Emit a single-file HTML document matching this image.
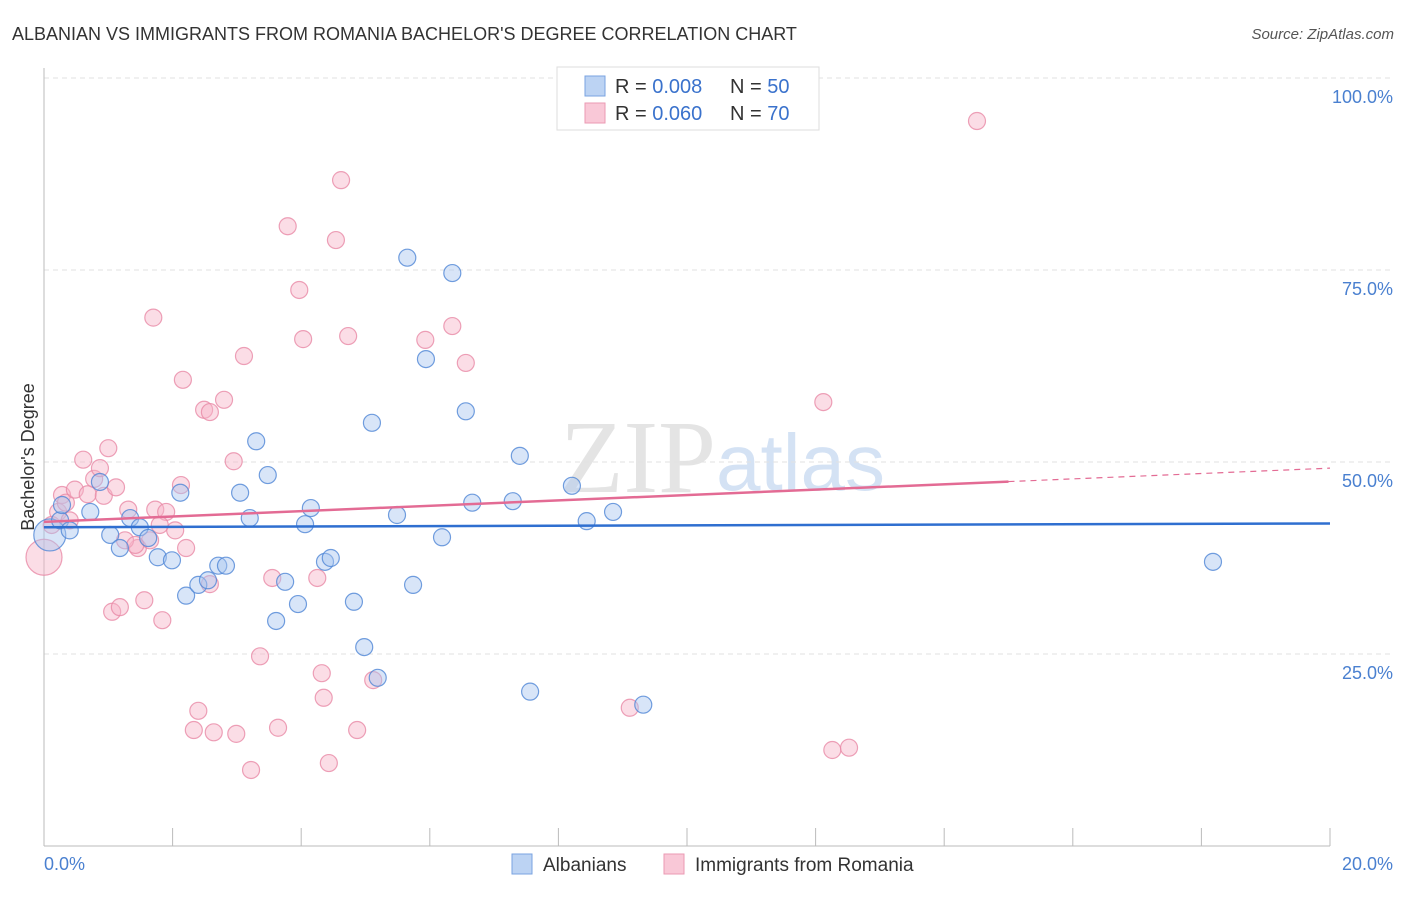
<!DOCTYPE html>
<html><head><meta charset="utf-8"><style>
body{margin:0;background:#fff;font-family:"Liberation Sans",sans-serif;}
svg text{font-family:"Liberation Sans",sans-serif;}
</style></head><body>
<svg id="chart" width="1406" height="892">
<text x="12" y="40" font-size="18" fill="#333">ALBANIAN VS IMMIGRANTS FROM ROMANIA BACHELOR'S DEGREE CORRELATION CHART</text>
<text x="1394" y="39" font-size="15" fill="#555" font-style="italic" text-anchor="end">Source: ZipAtlas.com</text>
<text x="716" y="492" font-size="104" fill="#e4e4e4" style="font-family:'Liberation Serif',serif" text-anchor="end">ZIP</text>
<text x="716" y="490" font-size="80" fill="#d4e2f4">atlas</text>
<g id="grid"></g><g id="axes"></g><g id="pts"></g><g id="trend"></g>
<text transform="translate(34,457) rotate(-90)" font-size="18" fill="#333" text-anchor="middle">Bachelor's Degree</text>
<text x="44" y="870" font-size="18" fill="#4a80d0">0.0%</text>
<text x="1393" y="870" font-size="18" fill="#4a80d0" text-anchor="end">20.0%</text>
<g>
<rect x="557" y="67" width="262" height="63" fill="#fff" stroke="#ddd"/>
<rect x="585" y="76" width="20" height="20" fill="#bcd3f3" stroke="#7aa3e0"/>
<rect x="585" y="103" width="20" height="20" fill="#f9c8d7" stroke="#eb9ab3"/>
<text x="615" y="93" font-size="20" fill="#333">R = <tspan fill="#3a72cc">0.008</tspan></text>
<text x="730" y="93" font-size="20" fill="#333">N = <tspan fill="#3a72cc">50</tspan></text>
<text x="615" y="120" font-size="20" fill="#333">R = <tspan fill="#3a72cc">0.060</tspan></text>
<text x="730" y="120" font-size="20" fill="#333">N = <tspan fill="#3a72cc">70</tspan></text>
</g>
<g>
<rect x="512" y="854" width="20" height="20" fill="#bcd3f3" stroke="#7aa3e0"/>
<text x="543" y="871" font-size="19" fill="#333">Albanians</text>
<rect x="664" y="854" width="20" height="20" fill="#f9c8d7" stroke="#eb9ab3"/>
<text x="695" y="871" font-size="19" fill="#333">Immigrants from Romania</text>
</g>
</svg>
<script>
const yTicks=[25,50,75,100];
const yTickLabels=["25.0%","50.0%","75.0%","100.0%"];
const blueX=[0.09,0.25,0.40,0.28,0.72,0.87,1.03,1.18,1.34,1.49,1.62,1.77,1.99,2.12,2.21,2.40,2.55,2.71,2.83,3.05,3.20,3.30,3.48,3.61,3.75,3.95,4.06,4.15,4.37,4.46,4.82,4.98,5.10,5.19,5.49,5.65,5.74,5.94,6.19,6.35,6.56,6.66,7.29,7.40,7.56,8.21,8.44,8.85,9.32,18.18];
const blueY=[40.5,42.4,41.1,44.4,43.5,47.4,40.5,38.8,42.7,41.5,40.1,37.6,37.2,46.0,32.6,34.0,34.6,36.5,36.5,46.0,42.7,52.7,48.3,29.3,34.4,31.5,41.9,44.0,37.0,37.5,31.8,25.9,55.1,21.9,43.1,76.6,34.0,63.4,40.2,74.6,56.6,44.7,44.9,50.8,20.1,46.9,42.3,43.5,18.4,37.0];
const pinkX=[0,0.12,0.22,0.28,0.34,0.48,0.61,0.68,0.78,0.87,0.93,1.00,1.06,1.12,1.18,1.31,1.46,1.56,1.65,1.70,1.73,1.84,1.90,2.04,2.13,2.16,2.21,2.33,2.40,2.49,2.58,2.64,2.80,2.95,2.99,3.11,3.22,3.36,3.55,3.64,3.79,3.97,4.03,4.25,4.32,4.35,4.54,4.62,4.73,4.87,4.43,5.12,5.93,6.35,6.56,9.11,12.12,12.26,12.52,14.51,0.40,1.26,1.42,1.80,2.58];
const pinkY=[37.6,41.8,43.5,45.7,44.7,46.4,50.3,45.8,47.8,49.2,45.6,51.8,30.5,46.7,31.1,43.8,38.8,32.0,39.8,68.8,43.8,29.4,43.5,41.1,47.0,60.7,38.8,15.1,17.6,56.8,56.5,14.8,58.1,50.1,14.6,63.8,9.9,24.7,34.9,15.4,80.7,72.4,66.0,34.9,22.5,19.3,78.9,86.7,66.4,15.1,10.8,21.6,65.9,67.7,62.9,18.0,57.8,12.5,12.8,94.4,42.4,39.8,39.2,41.8,34.1];
const blueTrend=[41.5,42.0];
const pinkTrend=[42.2,49.2];
const sx=v=>44+v/20*1286, sy=v=>846-v/100*768;
const NS="http://www.w3.org/2000/svg";
function mk(t,a,p){const e=document.createElementNS(NS,t);for(const k in a)e.setAttribute(k,a[k]);document.getElementById(p).appendChild(e);return e;}
yTicks.forEach((t,i)=>{
 const l=mk('line',{x1:44,x2:1393,y1:sy(t),y2:sy(t),stroke:'#e2e2e2','stroke-dasharray':'5,4'},'grid');
 
 
 const tx=mk('text',{x:1393,y:sy(t)+25,'font-size':18,fill:'#4a80d0','text-anchor':'end'},'grid');
 tx.textContent=yTickLabels[i];
 
 
});
const ya=mk('line',{x1:44,x2:44,y1:68,y2:846,stroke:'#bbb'},'axes');


const xa=mk('line',{x1:44,x2:1330,y1:846,y2:846,stroke:'#bbb'},'axes');


for(let i=1;i<=10;i++){const tk=mk('line',{x1:sx(i*2),x2:sx(i*2),y1:828,y2:846,stroke:'#bbb'},'axes');
 
 }
function dots(X,Y,fill,stroke,name){X.forEach((x,i)=>{
 const r=(i===0)?(name==='albanian-point'?16:18):8.5;
 const c=mk('circle',{cx:sx(x),cy:sy(Y[i]),r:r,fill:fill,'fill-opacity':0.45,stroke:stroke,'stroke-opacity':0.8,'stroke-width':1.2},'pts');
 
 });}
dots(pinkX,pinkY,'#f6b3c7','#e889a6','romania-point');
dots(blueX,blueY,'#a9c6ef','#4f86d6','albanian-point');
const bl=mk('line',{x1:sx(0),x2:sx(20),y1:sy(blueTrend[0]),y2:sy(blueTrend[1]),stroke:'#2f6fd0','stroke-width':2.5},'trend');


const pm=pinkTrend[0]+(pinkTrend[1]-pinkTrend[0])*0.75;
const pl=mk('line',{x1:sx(0),x2:sx(15),y1:sy(pinkTrend[0]),y2:sy(pm),stroke:'#e36b94','stroke-width':2.5},'trend');


const pd=mk('line',{x1:sx(15),x2:sx(20),y1:sy(pm),y2:sy(pinkTrend[1]),stroke:'#e36b94','stroke-width':1.2,'stroke-dasharray':'6,5'},'trend');


</script>
</body></html>
